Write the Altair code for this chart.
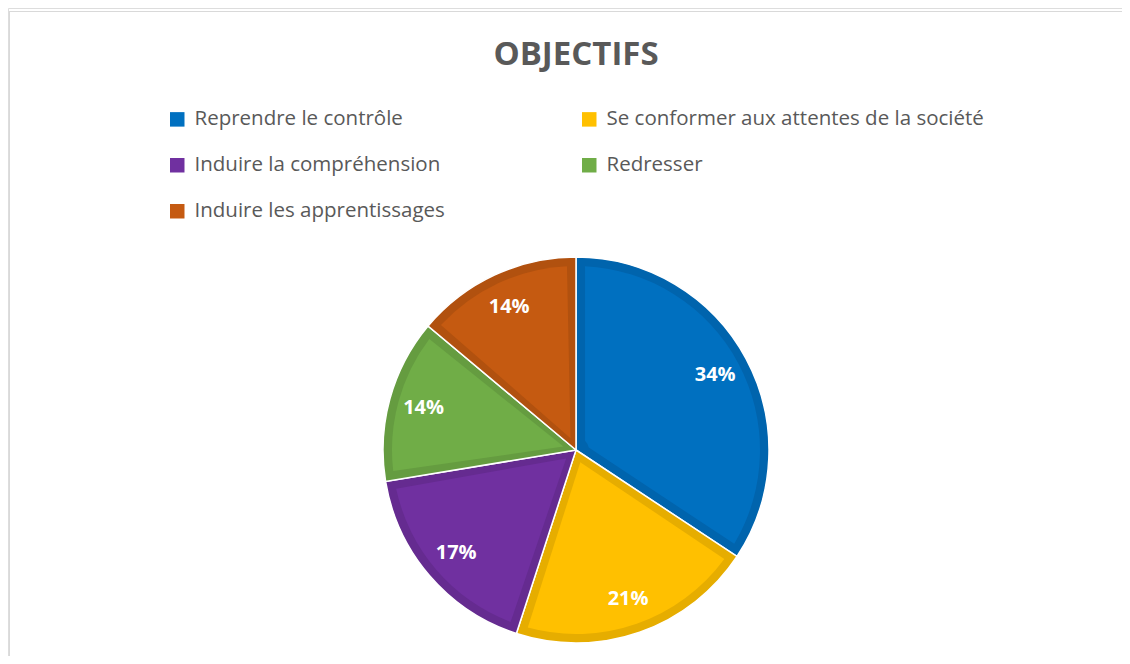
import altair as alt
import pandas as pd

categories = [
    "Reprendre le contrôle",
    "Se conformer aux attentes de la société",
    "Induire la compréhension",
    "Redresser",
    "Induire les apprentissages",
]
values = [34.3, 20.7, 17.4, 13.7, 13.9]
labels = ["34%", "21%", "17%", "14%", "14%"]
fill_colors = ["#0070C0", "#FFC000", "#7030A0", "#70AD47", "#C55A11"]
edge_colors = ["#0064AD", "#E6AD00", "#652B90", "#659C40", "#B1510F"]

df = pd.DataFrame({
    "cat": categories,
    "val": values,
    "lab": labels,
    "edge": edge_colors,
    "idx": list(range(len(categories))),
})

W, H = 1114, 648
CX, CY = 568, 442
R = 193
FONT = "Open Sans"

base = alt.Chart(df).encode(
    theta=alt.Theta("val:Q", stack=True, scale=alt.Scale(range=[0, 6.283185307])),
    order=alt.Order("idx:Q"),
    x=alt.value(CX),
    y=alt.value(CY),
)

dark = base.mark_arc(outerRadius=R, stroke="white", strokeWidth=1.5).encode(
    fill=alt.Fill("edge:N", scale=None),
)

light = base.mark_arc(outerRadius=R - 9, innerRadius=13, padAngle=0.098).encode(
    color=alt.Color(
        "cat:N",
        scale=alt.Scale(domain=categories, range=fill_colors),
        sort=categories,
        legend=alt.Legend(
            title=None,
            orient="none",
            legendX=159,
            legendY=101,
            direction="horizontal",
            columns=2,
            columnPadding=134,
            rowPadding=25,
            symbolType="square",
            symbolSize=210,
            symbolStrokeWidth=0,
            labelFont=FONT,
            labelFontSize=20.5,
            labelColor="#595959",
            labelOffset=7,
            labelLimit=600,
        ),
    ),
)

text = base.mark_text(radius=158, font=FONT, fontSize=20, fontWeight="bold", color="white").encode(
    text="lab:N",
)

title = alt.Chart(pd.DataFrame({"t": ["OBJECTIFS"]})).mark_text(
    font=FONT, fontSize=33, fontWeight="bold", color="#595959", baseline="alphabetic"
).encode(text="t:N", x=alt.value(568), y=alt.value(57))

frame_top = alt.Chart(pd.DataFrame({"a": [0]})).mark_rule(color="#d9d9d9", strokeWidth=1).encode(
    x=alt.value(1), x2=alt.value(W + 20), y=alt.value(3.5)
)
frame_left = alt.Chart(pd.DataFrame({"a": [0]})).mark_rule(color="#d9d9d9", strokeWidth=1).encode(
    x=alt.value(1.5), y=alt.value(3), y2=alt.value(H + 20)
)

chart = alt.layer(frame_top, frame_left, title, dark, light, text).properties(
    width=W, height=H, padding=0, autosize=alt.AutoSizeParams(type="none")
).configure_view(stroke=None).configure(background="white")

chart.save("out.html", embed_options={"renderer": "svg", "actions": False})
